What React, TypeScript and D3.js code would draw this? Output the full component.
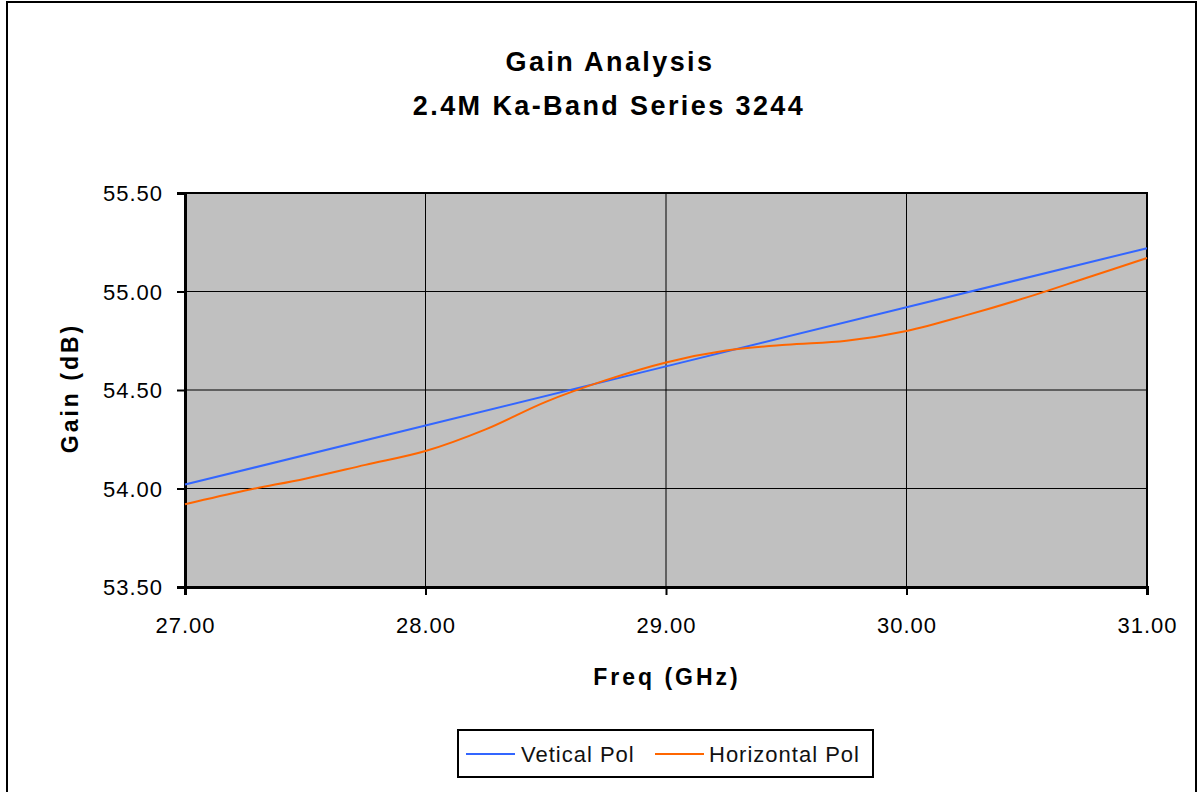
import React, { useEffect, useRef } from 'react';
import * as d3 from 'd3';

// frequency points (GHz)
const freqH = [27, 27.25, 27.5, 27.75, 28, 28.25, 28.5, 28.75, 29, 29.25, 29.5, 29.75, 30, 30.25, 30.5, 30.75, 31];
const gainH = [53.92, 53.99, 54.05, 54.12, 54.19, 54.3, 54.44, 54.55, 54.64, 54.7, 54.73, 54.75, 54.8, 54.88, 54.97, 55.07, 55.17];
const freqV = [27, 28, 29, 30, 31];
const gainV = [54.02, 54.32, 54.62, 54.92, 55.22];
const xTicks = [27, 28, 29, 30, 31];
const yTicks = [53.5, 54, 54.5, 55, 55.5];
const seriesNames = ['Vetical Pol', 'Horizontal Pol'];
const seriesColors = ['#3366FF', '#FF6600'];

const App: React.FC = () => {
  const svgRef = useRef<SVGSVGElement>(null);

  useEffect(() => {
    if (!svgRef.current) return;
    const width = 1199;
    const height = 792;
    const svg = d3.select(svgRef.current);
    svg.selectAll('*').remove();
    svg.attr('width', width).attr('height', height);

    const font = 'Liberation Sans, Arial, sans-serif';
    const left = 185, right = 1147, top = 193, bottom = 587;

    // outer chart border
    svg.append('rect')
      .attr('x', 7).attr('y', 2).attr('width', 1189).attr('height', 820)
      .attr('fill', 'white').attr('stroke', 'black').attr('stroke-width', 2);

    const x = d3.scaleLinear().domain([27, 31]).range([left, right]);
    const y = d3.scaleLinear().domain([53.5, 55.5]).range([bottom, top]);

    // plot background
    svg.append('rect')
      .attr('x', left).attr('y', top).attr('width', right - left).attr('height', bottom - top)
      .attr('fill', '#C0C0C0');

    // grid
    svg.append('g').selectAll('line').data(xTicks.slice(1)).join('line')
      .attr('x1', d => x(d)).attr('x2', d => x(d)).attr('y1', top).attr('y2', bottom)
      .attr('stroke', 'black').attr('stroke-width', 1);
    svg.append('g').selectAll('line').data(yTicks.slice(1)).join('line')
      .attr('x1', left).attr('x2', right).attr('y1', d => y(d)).attr('y2', d => y(d))
      .attr('stroke', 'black').attr('stroke-width', 1);

    // plot border (top/right)
    svg.append('path')
      .attr('d', `M${left},${top}H${right}V${bottom}`)
      .attr('fill', 'none').attr('stroke', 'black').attr('stroke-width', 2);

    // axes
    const xAxis = d3.axisBottom(x).tickValues(xTicks).tickSize(8).tickPadding(6).tickFormat(d => d3.format('.2f')(d as number));
    const yAxis = d3.axisLeft(y).tickValues(yTicks).tickSize(8).tickPadding(14).tickFormat(d => d3.format('.2f')(d as number));

    const gx = svg.append('g').attr('transform', `translate(0,${bottom})`).call(xAxis);
    const gy = svg.append('g').attr('transform', `translate(${left},0)`).call(yAxis);
    [gx, gy].forEach(g => {
      g.select('.domain').attr('stroke', 'black').attr('stroke-width', 3);
      g.selectAll('.tick line').attr('stroke', 'black').attr('stroke-width', 2);
      g.selectAll('.tick text')
        .attr('fill', 'black')
        .style('font-family', font)
        .style('font-size', '22px')
        .style('letter-spacing', '1px');
    });
    gx.selectAll('.tick text').attr('dy', '1.45em');
    gy.selectAll('.tick text').attr('dy', '0.35em');

    // lines
    const lineV = d3.line<number>()
      .x((_, i) => x(freqV[i]))
      .y(d => y(d));
    const lineH = d3.line<number>()
      .x((_, i) => x(freqH[i]))
      .y(d => y(d))
      .curve(d3.curveCatmullRom.alpha(0.5));

    svg.append('path').datum(gainV)
      .attr('d', lineV).attr('fill', 'none')
      .attr('stroke', seriesColors[0]).attr('stroke-width', 2);
    svg.append('path').datum(gainH)
      .attr('d', lineH).attr('fill', 'none')
      .attr('stroke', seriesColors[1]).attr('stroke-width', 2);

    // titles
    svg.append('text')
      .attr('x', 610).attr('y', 71).attr('text-anchor', 'middle')
      .style('font-family', font).style('font-weight', 'bold').style('font-size', '27px')
      .style('letter-spacing', '2.4px')
      .text('Gain Analysis');
    svg.append('text')
      .attr('x', 609).attr('y', 115).attr('text-anchor', 'middle')
      .style('font-family', font).style('font-weight', 'bold').style('font-size', '27px')
      .style('letter-spacing', '2.4px')
      .text('2.4M Ka-Band Series 3244');

    svg.append('text')
      .attr('x', 667).attr('y', 685).attr('text-anchor', 'middle')
      .style('font-family', font).style('font-weight', 'bold').style('font-size', '23px')
      .style('letter-spacing', '3px')
      .text('Freq (GHz)');
    svg.append('text')
      .attr('transform', 'translate(78,388) rotate(-90)')
      .attr('text-anchor', 'middle')
      .style('font-family', font).style('font-weight', 'bold').style('font-size', '23px')
      .style('letter-spacing', '3px')
      .text('Gain (dB)');

    // legend
    const legend = svg.append('g');
    legend.append('rect')
      .attr('x', 458).attr('y', 730).attr('width', 415).attr('height', 47)
      .attr('fill', 'white').attr('stroke', 'black').attr('stroke-width', 2);
    const items = [
      { lx: 466, tx: 521 },
      { lx: 655, tx: 709 },
    ];
    items.forEach((it, i) => {
      legend.append('line')
        .attr('x1', it.lx).attr('x2', it.lx + 49).attr('y1', 754).attr('y2', 754)
        .attr('stroke', seriesColors[i]).attr('stroke-width', 2);
      legend.append('text')
        .attr('x', it.tx).attr('y', 762)
        .style('font-family', font).style('font-size', '22px')
        .style('letter-spacing', '1px')
        .attr('fill', '#111')
        .text(seriesNames[i]);
    });
  }, []);

  return <svg ref={svgRef} style={{ position: 'absolute', left: 0, top: 0 }}></svg>;
};

export default App;
